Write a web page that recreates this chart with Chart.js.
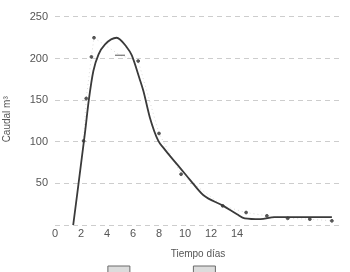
<!DOCTYPE html>
<html>
<head>
<meta charset="utf-8">
<script src="https://cdn.jsdelivr.net/npm/chart.js@4/dist/chart.umd.min.js"></script>
<style>
  html, body { margin: 0; padding: 0; background: #fff; overflow: hidden; }
  #wrap { width: 350px; height: 288px; }
</style>
</head>
<body>
<div id="wrap"><canvas id="c" width="350" height="288"></canvas></div>
<script>
// Calculated hydrograph (smooth curve)
const calcDays = [1.4, 2.3, 2.6, 2.95, 3.35, 3.85, 4.74, 5.5, 5.9, 6.5, 6.8, 7.3, 7.95, 8.33, 9.0, 9.6, 10.4, 11.4, 12.95, 14.0, 14.6, 15.8, 16.9, 19.0, 21.3];
const calcFlow = [0, 110, 150, 185, 205, 217, 225, 214, 204, 176, 161, 129, 101, 93, 80, 69, 54, 36, 23, 13, 8, 7, 9.5, 9.5, 9.5];
// Observed values (dots)
const obsDays = [2.2, 2.4, 2.8, 3.0, 5.0, 6.4, 8.0, 9.7, 12.9, 14.7, 16.3, 17.9, 19.6, 21.3];
const obsFlow = [101, 152, 202, 225, 204, 197, 110, 61, 23, 15, 11, 8, 7, 5];
const yTicks = [50, 100, 150, 200, 250];
const xTicks = [0, 2, 4, 6, 8, 10, 12, 14];

const tickColor = '#555';
const fontFam = 'Arial, "Liberation Sans", Helvetica, sans-serif';
const sp = n => '\u00A0'.repeat(n);

new Chart(document.getElementById('c'), {
  type: 'scatter',
  data: {
    datasets: [
      {
        label: 'Calculado',
        data: calcDays.map((d, i) => ({x: d, y: calcFlow[i]})),
        showLine: true,
        borderColor: '#3a3a3a',
        borderWidth: 1.8,
        pointRadius: 0,
        cubicInterpolationMode: 'monotone',
        fill: false
      },
      {
        label: 'Observado',
        data: obsDays.map((d, i) => ({x: d, y: obsFlow[i]})),
        showLine: true,
        borderColor: 'rgba(150,150,150,0.35)',
        borderWidth: 1,
        borderDash: [1, 3],
        pointRadius: obsDays.map(d => d === 5.0 ? 5 : 1.4),
        pointStyle: obsDays.map(d => d === 5.0 ? 'line' : 'circle'),
        pointBackgroundColor: '#555',
        pointBorderColor: '#555',
        pointBorderWidth: 1
      }
    ]
  },
  options: {
    responsive: false,
    animation: false,
    events: [],
    layout: { padding: { top: 3, right: 9, left: 0, bottom: 0 } },
    plugins: {
      tooltip: { enabled: false },
      legend: {
        display: true,
        position: 'bottom',
        labels: {
          boxWidth: 22,
          boxHeight: 12,
          padding: 3,
          font: { size: 11, family: fontFam },
          generateLabels: () => [
            { text: sp(18), fillStyle: '#dcdcdc', strokeStyle: '#6a6a6a', lineWidth: 1, hidden: false, datasetIndex: 1 },
            { text: sp(4), fillStyle: '#dcdcdc', strokeStyle: '#6a6a6a', lineWidth: 1, hidden: false, datasetIndex: 0 }
          ]
        }
      }
    },
    scales: {
      x: {
        type: 'linear',
        min: 0,
        max: 22,
        afterBuildTicks: s => { s.ticks = xTicks.concat([16, 18, 20, 22]).map(v => ({value: v})); },
        afterFit: s => { s.height = 38; },
        ticks: {
          color: tickColor,
          padding: 2,
          maxRotation: 0,
          autoSkip: false,
          font: { size: 11, family: fontFam },
          callback: v => xTicks.includes(v) ? String(v) : ''
        },
        grid: { display: false, drawTicks: false },
        border: { display: false },
        title: {
          display: true,
          text: 'Tiempo días',
          color: tickColor,
          padding: { top: 0, bottom: 2.4 },
          font: { size: 10, family: fontFam }
        }
      },
      y: {
        type: 'linear',
        min: 0,
        max: 254,
        afterBuildTicks: s => { s.ticks = [0].concat(yTicks).map(v => ({value: v})); },
        afterFit: s => { s.width = 55; },
        ticks: {
          color: tickColor,
          padding: 7,
          font: { size: 11, family: fontFam },
          callback: v => yTicks.includes(v) ? String(v) : ''
        },
        grid: {
          color: '#cdcdcd',
          lineWidth: 1,
          drawTicks: false
        },
        border: { display: false, dash: [5, 4] },
        title: {
          display: true,
          text: 'Caudal m³',
          color: tickColor,
          padding: { top: 1.4, bottom: 0 },
          font: { size: 10, family: fontFam }
        }
      }
    }
  }
});
</script>
</body>
</html>
